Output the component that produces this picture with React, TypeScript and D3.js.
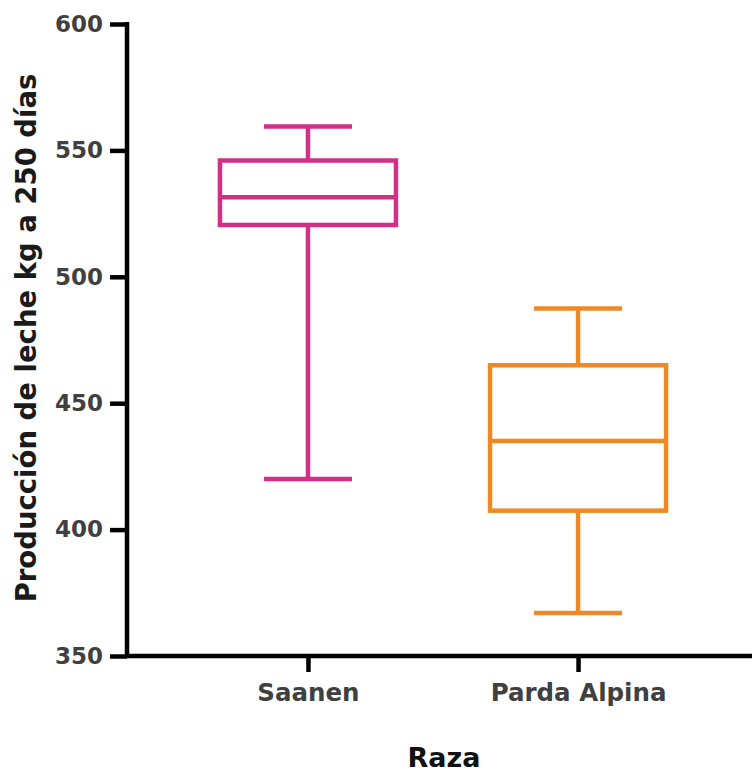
import React, { useEffect, useRef } from 'react';
import * as d3 from 'd3';

const categories = ['Saanen', 'Parda Alpina'];
const mins = [420, 367];
const q1s = [520.5, 407.5];
const medians = [531.5, 435];
const q3s = [546, 465];
const maxs = [559.5, 487.5];
const boxColors = ['#D42F86', '#EE8A25'];
const yTicks = [350, 400, 450, 500, 550, 600];

const App: React.FC = () => {
  const d3Container = useRef(null);

  useEffect(() => {
    if (!d3Container.current) return;
    const width = 752;
    const height = 772;
    const left = 127;
    const top = 24;
    const bottom = 656;

    const svg = d3.select(d3Container.current);
    svg.selectAll('*').remove();
    svg.attr('width', width).attr('height', height);

    const y = d3.scaleLinear().domain([350, 600]).range([bottom, top]);
    const x = d3
      .scalePoint()
      .domain(categories)
      .range([left, width + 7])
      .padding(0.67);

    const boxW = 176;
    const capW = 88;

    const data = categories.map((c, i) => ({
      name: c,
      min: mins[i],
      q1: q1s[i],
      med: medians[i],
      q3: q3s[i],
      max: maxs[i],
      color: boxColors[i],
    }));

    const g = svg
      .append('g')
      .selectAll('g')
      .data(data)
      .join('g')
      .attr('fill', 'none')
      .attr('stroke', (d) => d.color)
      .attr('stroke-width', 4.5);

    // whiskers
    g.append('line')
      .attr('x1', (d) => x(d.name)!)
      .attr('x2', (d) => x(d.name)!)
      .attr('y1', (d) => y(d.q3))
      .attr('y2', (d) => y(d.max));
    g.append('line')
      .attr('x1', (d) => x(d.name)!)
      .attr('x2', (d) => x(d.name)!)
      .attr('y1', (d) => y(d.q1))
      .attr('y2', (d) => y(d.min));
    g.append('line')
      .attr('x1', (d) => x(d.name)! - capW / 2)
      .attr('x2', (d) => x(d.name)! + capW / 2)
      .attr('y1', (d) => y(d.max))
      .attr('y2', (d) => y(d.max));
    g.append('line')
      .attr('x1', (d) => x(d.name)! - capW / 2)
      .attr('x2', (d) => x(d.name)! + capW / 2)
      .attr('y1', (d) => y(d.min))
      .attr('y2', (d) => y(d.min));

    // box + median
    g.append('rect')
      .attr('x', (d) => x(d.name)! - boxW / 2)
      .attr('width', boxW)
      .attr('y', (d) => y(d.q3))
      .attr('height', (d) => y(d.q1) - y(d.q3));
    g.append('line')
      .attr('x1', (d) => x(d.name)! - boxW / 2)
      .attr('x2', (d) => x(d.name)! + boxW / 2)
      .attr('y1', (d) => y(d.med))
      .attr('y2', (d) => y(d.med));

    // axes
    const yAxis = svg
      .append('g')
      .attr('transform', `translate(${left},0)`)
      .call(d3.axisLeft(y).tickValues(yTicks).tickSize(17).tickPadding(7));
    const xAxis = svg
      .append('g')
      .attr('transform', `translate(0,${bottom})`)
      .call(d3.axisBottom(x).tickSize(16).tickPadding(12));

    [yAxis, xAxis].forEach((a) => {
      a.select('.domain').remove();
      a.selectAll('line').attr('stroke', '#000').attr('stroke-width', 4.5);
      a.selectAll('text')
        .attr('font-family', 'DejaVu Sans')
        .attr('font-weight', 'bold')
        .attr('font-size', 24.5)
        .attr('fill', '#404040');
    });
    yAxis.selectAll('text').attr('font-size', 23);

    svg
      .append('line')
      .attr('x1', left)
      .attr('x2', left)
      .attr('y1', top - 2)
      .attr('y2', bottom + 2)
      .attr('stroke', '#000')
      .attr('stroke-width', 4.5);
    svg
      .append('line')
      .attr('x1', left - 2)
      .attr('x2', width)
      .attr('y1', bottom)
      .attr('y2', bottom)
      .attr('stroke', '#000')
      .attr('stroke-width', 4.5);

    // titles
    svg
      .append('text')
      .attr('x', 444)
      .attr('y', 767)
      .attr('text-anchor', 'middle')
      .attr('font-family', 'DejaVu Sans')
      .attr('font-weight', 'bold')
      .attr('font-size', 27)
      .attr('fill', '#111')
      .text('Raza');

    svg
      .append('text')
      .attr('transform', `translate(36,${(top + bottom) / 2 - 2}) rotate(-90)`)
      .attr('text-anchor', 'middle')
      .attr('font-family', 'DejaVu Sans')
      .attr('font-weight', 'bold')
      .attr('font-size', 27.5)
      .attr('fill', '#1a1a1a')
      .text('Producción de leche kg a 250 días');
  }, []);

  return (
    <svg
      ref={d3Container}
      width={752}
      height={772}
      style={{ position: 'absolute', top: 0, left: 0, background: '#fff' }}
    />
  );
};

export default App;
